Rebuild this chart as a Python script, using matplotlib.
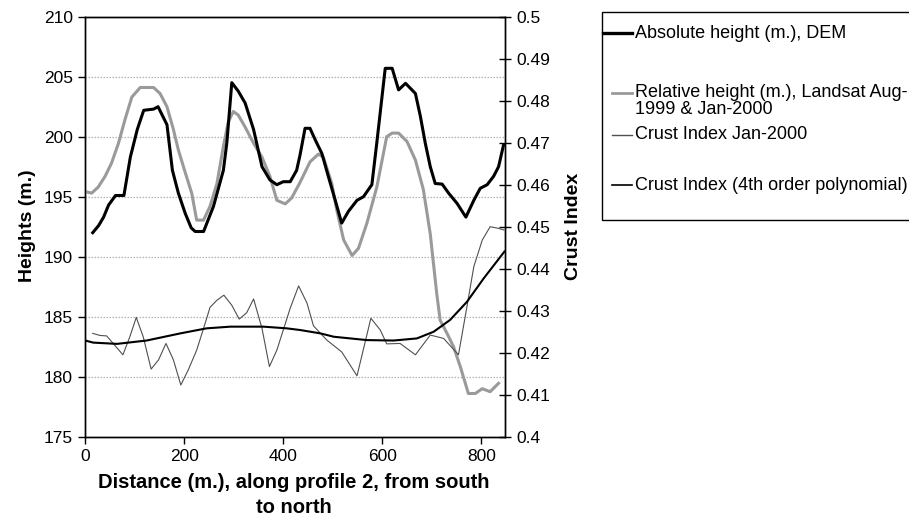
import matplotlib
matplotlib.use('Agg')
import matplotlib.pyplot as plt
from matplotlib.lines import Line2D
from matplotlib.patches import Rectangle

plt.rcParams['font.family'] = ['Liberation Sans', 'DejaVu Sans']

# ---------------- data ----------------
abs_x = [15, 27, 37, 47, 61, 78, 91, 105, 118, 138, 147, 165, 176, 188, 202, 214, 222, 239,
         259, 279, 286, 296, 309, 323, 340, 357, 373, 387, 400, 414, 427, 434, 444, 454, 465,
         478, 491, 505, 518, 532, 549, 562, 579, 589, 606, 620, 633, 647, 667, 677, 687, 697,
         707, 721, 734, 751, 769, 785, 798, 812, 825, 835, 845]
abs_h = [192.0, 192.6, 193.3, 194.3, 195.1, 195.1, 198.3, 200.6, 202.2, 202.3, 202.5, 201.0,
         197.2, 195.3, 193.6, 192.4, 192.1, 192.1, 194.2, 197.2, 199.5, 204.5, 203.8, 202.8,
         200.6, 197.5, 196.4, 196.0, 196.25, 196.25, 197.2, 198.5, 200.7, 200.7, 199.7, 198.6,
         196.7, 194.7, 192.8, 193.8, 194.7, 195.0, 196.0, 199.5, 205.7, 205.7, 203.9, 204.45,
         203.6, 201.7, 199.45, 197.5, 196.1, 196.05, 195.3, 194.45, 193.3, 194.7, 195.7, 196.0,
         196.7, 197.5, 199.3]

rel_x = [2, 13, 26, 40, 53, 67, 80, 94, 111, 138, 151, 165, 178, 188, 202, 215, 225, 239,
         252, 266, 279, 289, 299, 309, 323, 340, 357, 373, 387, 404, 417, 434, 454, 471, 481,
         498, 508, 522, 539, 552, 569, 589, 609, 620, 633, 650, 667, 683, 697, 710, 717, 731,
         744, 758, 774, 788, 802, 818, 835]
rel_h = [195.4, 195.3, 195.8, 196.7, 197.8, 199.45, 201.4, 203.3, 204.1, 204.1, 203.6, 202.5,
         200.6, 198.9, 197.0, 195.3, 193.05, 193.05, 194.2, 196.1, 199.2, 201.25, 202.1, 201.8,
         200.8, 199.45, 198.3, 196.7, 194.7, 194.4, 194.9, 196.2, 197.9, 198.55, 198.3, 196.1,
         193.9, 191.4, 190.1, 190.7, 192.8, 195.8, 200.0, 200.3, 200.3, 199.6, 198.05, 195.6,
         191.9, 186.95, 184.7, 183.6, 182.5, 180.8, 178.6, 178.6, 179.0, 178.75, 179.45]

crust_x = [15, 30, 43, 57, 76, 90, 103, 117, 133, 148, 163, 178, 193, 208, 225, 239, 252,
           266, 280, 296, 311, 326, 340, 357, 372, 387, 400, 414, 431, 448, 461, 488, 518,
           549, 577, 596, 609, 636, 667, 697, 724, 754, 771, 785, 802, 818, 835, 846]
crust_ci = [0.4246, 0.4241, 0.4240, 0.4221, 0.4195, 0.4238, 0.4284, 0.4238, 0.4161, 0.4183,
            0.4222, 0.4183, 0.4123, 0.4159, 0.4206, 0.4258, 0.4308, 0.4325, 0.4337, 0.4313,
            0.4280, 0.4295, 0.4328, 0.4258, 0.4167, 0.4206, 0.4254, 0.4306, 0.4359, 0.4318,
            0.4264, 0.4230, 0.4202, 0.4145, 0.4282, 0.4254, 0.4221, 0.4222, 0.4195, 0.4242,
            0.4234, 0.4195, 0.4309, 0.4405, 0.4468, 0.4500, 0.4496, 0.4492]

poly_x = [0, 16, 64, 124, 192, 245, 293, 360, 407, 434, 475, 502, 569, 623, 670, 704, 737,
          771, 805, 847]
poly_ci = [0.4229, 0.4224, 0.4221, 0.4229, 0.4246, 0.4258, 0.4262, 0.4262, 0.4258, 0.4254,
           0.4246, 0.4238, 0.4230, 0.4229, 0.4234, 0.4250, 0.4278, 0.4321, 0.4377, 0.4441]

left_ticks = [175, 180, 185, 190, 195, 200, 205, 210]
right_ticks = [0.40, 0.41, 0.42, 0.43, 0.44, 0.45, 0.46, 0.47, 0.48, 0.49, 0.50]
right_labels = ['0.4', '0.41', '0.42', '0.43', '0.44', '0.45', '0.46', '0.47', '0.48', '0.49', '0.5']
x_ticks = [0, 200, 400, 600, 800]

legend_labels = ['Absolute height (m.), DEM',
                 'Relative height (m.), Landsat Aug-\n1999 & Jan-2000',
                 'Crust Index Jan-2000',
                 'Crust Index (4th order polynomial)']

# ---------------- figure ----------------
W, H = 909, 527
fig = plt.figure(figsize=(W / 100, H / 100), dpi=100)
x0, x1, ytop, ybot = 85.3, 505.0, 16.7, 436.7
ax = fig.add_axes([x0 / W, 1 - ybot / H, (x1 - x0) / W, (ybot - ytop) / H])
ax2 = ax.twinx()

ax.set_xlim(0, 848)
ax.set_ylim(175, 210)
ax2.set_ylim(0.4, 0.5)

for v in left_ticks[1:-1]:
    ax.axhline(v, color='#b4b4b4', lw=0.9, ls=(0, (1.2, 1.2)), zorder=0)

ax.plot(rel_x, rel_h, color='#9a9a9a', lw=2.2, zorder=3, solid_joinstyle='round')
ax.plot(abs_x, abs_h, color='#000000', lw=2.2, zorder=4, solid_joinstyle='round')
ax2.plot(crust_x, crust_ci, color='#505050', lw=0.8, zorder=3)
ax2.plot(poly_x, poly_ci, color='#000000', lw=1.5, zorder=4)

ax.set_xticks(x_ticks)
ax.set_yticks(left_ticks)
ax2.set_yticks(right_ticks)
ax2.set_yticklabels(right_labels)

for a in (ax, ax2):
    for s in a.spines.values():
        s.set_color('#000000')
        s.set_linewidth(1.0)
ax.tick_params(axis='both', direction='out', length=5, width=1, labelsize=12.5, pad=4)
ax2.tick_params(axis='y', direction='inout', length=8, width=1, labelsize=12.5, pad=4)

fig.text(28 / W, 1 - 226 / H, 'Heights (m.)', rotation=90, ha='center', va='center',
         fontsize=14, fontweight='bold')
fig.text(573 / W, 1 - 226 / H, 'Crust Index', rotation=90, ha='center', va='center',
         fontsize=14, fontweight='bold')
fig.text(294 / W, 1 - 495 / H, 'Distance (m.), along profile 2, from south\nto north',
         ha='center', va='center', fontsize=14.5, fontweight='bold', linespacing=1.4)

# ---------------- legend (manual, in figure pixels) ----------------
def fx(px):
    return px / W

def fy(py):
    return 1 - py / H

box = Rectangle((fx(602), fy(220)), fx(320), (220 - 12) / H, transform=fig.transFigure,
                facecolor='white', edgecolor='black', lw=1.0, clip_on=False)
fig.patches.append(box)

entries = [
    (33, 603, '#000000', 2.4, legend_labels[0], 33),
    (93, 612, '#9a9a9a', 2.0, legend_labels[1], 101),
    (135, 612, '#505050', 1.0, legend_labels[2], 135),
    (185, 612, '#000000', 1.2, legend_labels[3], 185),
]
for ly, lx0, col, lw, lab, ty in entries:
    fig.lines.append(Line2D([fx(lx0), fx(632)], [fy(ly), fy(ly)], transform=fig.transFigure,
                            color=col, lw=lw))
    fig.text(fx(635), fy(ty), lab, ha='left', va='center', fontsize=13, linespacing=1.0)

fig.savefig('out.png', dpi=100)
